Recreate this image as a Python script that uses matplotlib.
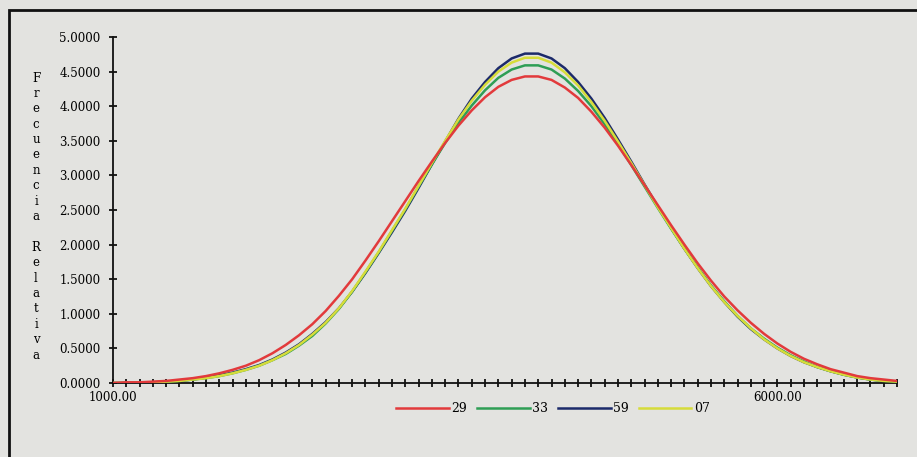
import matplotlib.pyplot as plt
from matplotlib.patches import Rectangle

# Class marks (x axis categories)
x_values = [1000 + 100 * i for i in range(60)]
x_labels = ["1000.00" if v == 1000 else "6000.00" if v == 6000 else "" for v in x_values]

# Relative frequency series
serie_29 = [0.00, 0.01, 0.01, 0.02, 0.03, 0.05, 0.07, 0.10, 0.14, 0.19,
            0.25, 0.33, 0.43, 0.55, 0.69, 0.85, 1.04, 1.26, 1.50, 1.77,
            2.05, 2.34, 2.63, 2.92, 3.20, 3.47, 3.72, 3.94, 4.13, 4.28,
            4.38, 4.43, 4.43, 4.38, 4.27, 4.12, 3.92, 3.69, 3.43, 3.15,
            2.86, 2.57, 2.28, 2.00, 1.73, 1.48, 1.25, 1.05, 0.87, 0.71,
            0.57, 0.45, 0.35, 0.27, 0.20, 0.15, 0.10, 0.07, 0.05, 0.03]
serie_33 = [0.00, 0.00, 0.01, 0.01, 0.02, 0.03, 0.05, 0.07, 0.10, 0.14,
            0.19, 0.25, 0.33, 0.42, 0.54, 0.68, 0.86, 1.07, 1.32, 1.60,
            1.89, 2.20, 2.51, 2.84, 3.16, 3.47, 3.76, 4.01, 4.23, 4.41,
            4.53, 4.59, 4.59, 4.53, 4.40, 4.22, 4.00, 3.74, 3.45, 3.15,
            2.84, 2.53, 2.23, 1.94, 1.67, 1.41, 1.18, 0.97, 0.79, 0.64,
            0.51, 0.40, 0.31, 0.23, 0.17, 0.12, 0.08, 0.05, 0.03, 0.02]
serie_59 = [0.00, 0.00, 0.01, 0.01, 0.02, 0.03, 0.05, 0.08, 0.11, 0.15,
            0.20, 0.26, 0.34, 0.44, 0.56, 0.71, 0.88, 1.08, 1.32, 1.59,
            1.88, 2.18, 2.49, 2.82, 3.16, 3.49, 3.82, 4.11, 4.35, 4.55,
            4.69, 4.76, 4.76, 4.69, 4.55, 4.35, 4.11, 3.83, 3.52, 3.20,
            2.87, 2.55, 2.24, 1.94, 1.66, 1.40, 1.17, 0.96, 0.78, 0.63,
            0.50, 0.39, 0.30, 0.23, 0.17, 0.12, 0.08, 0.05, 0.03, 0.02]
serie_07 = [0.00, 0.00, 0.01, 0.01, 0.02, 0.03, 0.05, 0.07, 0.10, 0.14,
            0.19, 0.25, 0.33, 0.43, 0.55, 0.70, 0.87, 1.08, 1.33, 1.61,
            1.90, 2.21, 2.52, 2.85, 3.18, 3.50, 3.81, 4.08, 4.31, 4.50,
            4.63, 4.70, 4.70, 4.63, 4.49, 4.30, 4.06, 3.79, 3.49, 3.18,
            2.86, 2.54, 2.24, 1.94, 1.66, 1.40, 1.17, 0.97, 0.79, 0.63,
            0.50, 0.39, 0.30, 0.23, 0.17, 0.12, 0.08, 0.05, 0.03, 0.02]

series = [("29", serie_29, "#e23a3c", 5),
          ("33", serie_33, "#2e9e55", 3),
          ("59", serie_59, "#1c2a6a", 2),
          ("07", serie_07, "#d6dc3a", 4)]

bg = "#e3e3e0"
serif = "DejaVu Serif"

fig = plt.figure(figsize=(9.17, 4.57), dpi=100, facecolor=bg)
ax = fig.add_axes([113 / 917, 1 - 383 / 457, (897 - 113) / 917, (383 - 37) / 457])
ax.set_facecolor(bg)

idx = list(range(len(x_values)))
for name, vals, col, z in series:
    ax.plot(idx, vals, color=col, lw=1.8, label=name, zorder=z)

ax.set_xlim(0, len(x_values) - 1)
ax.set_ylim(0, 5)
ax.set_xticks(idx)
ax.set_xticklabels(x_labels, fontfamily=serif, fontsize=8.5)
ax.set_yticks([0, 0.5, 1, 1.5, 2, 2.5, 3, 3.5, 4, 4.5, 5])
ax.set_yticklabels([f"{v:.4f}" for v in ax.get_yticks()], fontfamily=serif, fontsize=8.5)
ax.tick_params(axis="x", direction="inout", length=6, width=1.2, pad=3)
ax.tick_params(axis="y", direction="inout", length=6, width=1.2, pad=6)
for s in ["top", "right"]:
    ax.spines[s].set_visible(False)
for s in ["left", "bottom"]:
    ax.spines[s].set_linewidth(1.3)
    ax.spines[s].set_color("#111111")

# vertical stacked axis title
title = "Frecuencia Relativa"
y0 = 1 - 78 / 457
step = 15.4 / 457
for i, ch in enumerate(title):
    fig.text(36 / 917, y0 - i * step, ch, ha="center", va="center",
             fontfamily=serif, fontsize=8.5)

leg = fig.legend(loc="center", bbox_to_anchor=(553 / 917, 1 - 409 / 457), ncol=4,
                 frameon=False, handlelength=4.2, handletextpad=0.2, columnspacing=0.8,
                 prop={"family": serif, "size": 9})

# outer chart border
fig.patches.append(Rectangle((9 / 917, -0.05), 1.0, 1 - 10 / 457 + 0.05,
                             transform=fig.transFigure, fill=False,
                             edgecolor="#111111", lw=2))

fig.savefig("out.png", dpi=100, facecolor=bg)
